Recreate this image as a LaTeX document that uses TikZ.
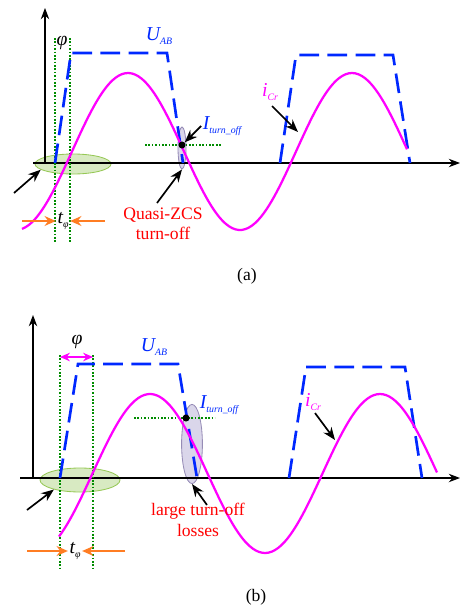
\documentclass[tikz,border=0pt]{standalone}
\usepackage{fontspec}
\setmainfont{Liberation Serif}
\usetikzlibrary{arrows.meta,positioning,shapes.geometric}

\definecolor{arrOrange}{RGB}{255,125,35}
\definecolor{zvsFill}{RGB}{216,234,194}
\definecolor{zvsLine}{RGB}{150,200,85}
\definecolor{offFill}{RGB}{218,214,234}
\definecolor{offLine}{RGB}{150,140,182}
\definecolor{voltBlue}{RGB}{0,40,255}
\definecolor{icrPink}{RGB}{255,0,255}
\definecolor{guideGreen}{RGB}{0,140,0}

\newcommand{\sub}[2]{{\itshape #1}\raisebox{-2.5pt}{\fontsize{7}{7}\selectfont\itshape #2}}

\begin{document}
\begin{tikzpicture}[
  x=0.025cm,y=-0.025cm,
  axis/.style={-{Stealth[length=8pt,width=6pt]},line width=0.8pt},
  volt/.style={voltBlue,line width=1.9pt,dash pattern=on 14pt off 6pt},
  curr/.style={icrPink,line width=1.6pt},
  guide/.style={guideGreen,dash pattern=on 1.2pt off 1.2pt,line width=0.9pt},
  blackarr/.style={-{Stealth[length=9pt,width=7pt]},line width=1.2pt},
  orarr/.style={-{Stealth[length=8pt,width=7pt]},line width=1.2pt,arrOrange},
  zvs/.style={ellipse,draw=zvsLine,fill=zvsFill,line width=0.6pt,inner sep=0pt},
  toff/.style={ellipse,draw=offLine,fill=offFill,line width=0.6pt,inner sep=0pt},
  dot/.style={circle,fill=black,inner sep=0pt,minimum size=5pt},
  lbl/.style={inner sep=1pt,font=\fontsize{14}{14}\selectfont},
  note/.style={text=red,align=center,inner sep=1pt,font=\fontsize{12.5}{14.5}\selectfont},
]
\useasboundingbox (0,0) rectangle (462,612);

%%% (a) %%%
% Zones
\node[zvs,minimum width=1.9cm,minimum height=0.5cm] (zvsA) at (73,164) {};
\node[toff,minimum width=0.2cm,minimum height=1.05cm] (offA) at (182,148) {};

% Axes
\draw[axis] (45,163) -- (45,8);
\draw[axis] (33,163) -- (460,163);

% Guides
\draw[guide] (55,38) -- (55,242);
\draw[guide] (70,38) -- (70,242);
\draw[guide] (145,145) -- (222,145);

% Waveforms
\draw[volt] (55,163) -- (71,53) -- (167,53) -- (183,163);
\draw[volt] (280,163) -- (296,55) -- (393,55) -- (410,163);
\draw[curr] plot[domain=22:407,samples=120,smooth] (\x,{151.5-78.5*cos(1.6071*(\x-128))});
\node[dot] (toffA) at (182,145) {};

% Labels
\node[lbl] (phiA) at (62,43) {\itshape φ};
\node[lbl,text=voltBlue] (uabA) at (159,36) {\sub{U}{AB}};
\node[lbl,text=voltBlue] (itoffA) at (222,126) {\sub{I}{turn\_off}};
\node[lbl,text=icrPink] (icrA) at (270,92) {\sub{i}{Cr}};
\node[lbl] (tphiA) at (63,221) {\sub{t}{φ}};
\node[note] (qzcs) at (163,224) {Quasi-ZCS\\turn-off};
\node[font=\fontsize{12.5}{14}\selectfont] (capA) at (247,276) {(a)};

% Pointers
\coordinate (zvsTailA) at (14,193);
\coordinate (qzcsTail) at (157,203);
\coordinate (icrTailA) at (272,106);
\coordinate (icrTipA) at (298,132);
\coordinate (tLeftA) at (22,221);
\coordinate (tRightA) at (105,221);
\draw[blackarr] (zvsTailA) -- (zvsA.190);
\draw[blackarr] (qzcsTail) -- (offA.south);
\draw[blackarr] (itoffA.west) -- (toffA);
\draw[blackarr] (icrTailA) -- (icrTipA);
\draw[orarr] (tLeftA) -- (tphiA.west);
\draw[orarr] (tRightA) -- (tphiA.east);

%%% (b) %%%
% Zones
\node[zvs,minimum width=2cm,minimum height=0.6cm] (zvsB) at (80,480) {};
\node[toff,minimum width=0.52cm,minimum height=1.98cm] (offB) at (192,444) {};

% Axes
\draw[axis] (33,478) -- (33,315);
\draw[axis] (20,478) -- (460,478);

% Guides
\draw[guide] (60,355) -- (60,568);
\draw[guide] (93,355) -- (93,568);
\draw[guide] (134,418) -- (215,418);
\draw[{Stealth[length=7pt,width=6pt]}-{Stealth[length=7pt,width=6pt]},icrPink,line width=1.2pt] (60,357) -- (93,357);

% Waveforms
\draw[volt] (60,478) -- (78,364) -- (178,364) -- (197,478);
\draw[volt] (289,478) -- (306,367) -- (405,367) -- (422,478);
\draw[curr] plot[domain=59:437,samples=120,smooth] (\x,{473.5-79.5*cos(1.5652*(\x-150))});
\node[dot] (toffB) at (186,418) {};

% Labels
\node[lbl] (phiB) at (77,342) {\itshape φ};
\node[lbl,text=voltBlue] (uabB) at (154,347) {\sub{U}{AB}};
\node[lbl,text=voltBlue] (itoffB) at (219,405) {\sub{I}{turn\_off}};
\node[lbl,text=icrPink] (icrB) at (313,402) {\sub{i}{Cr}};
\node[lbl] (tphiB) at (75,551) {\sub{t}{φ}};
\node[note] (losses) at (198,520) {large turn-off\\losses};
\node[font=\fontsize{12.5}{14}\selectfont] (capB) at (256,597) {(b)};

% Pointers
\coordinate (zvsTailB) at (27,510);
\coordinate (lossTail) at (207,505);
\coordinate (icrTailB) at (315,413);
\coordinate (icrTipB) at (335,440);
\coordinate (tLeftB) at (27,551);
\coordinate (tRightB) at (125,551);
\draw[blackarr] (zvsTailB) -- (zvsB.200);
\draw[blackarr] (lossTail) -- (offB.south);
\draw[blackarr] (icrTailB) -- (icrTipB);
\draw[orarr] (tLeftB) -- (tphiB.west);
\draw[orarr] (tRightB) -- (tphiB.east);
\end{tikzpicture}
\end{document}
